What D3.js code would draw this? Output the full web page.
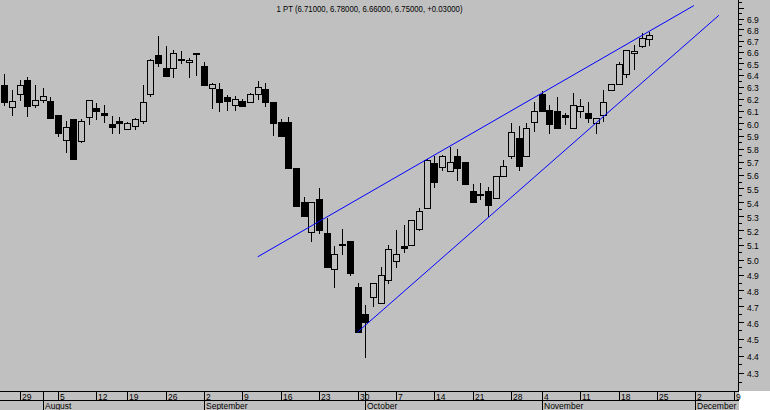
<!DOCTYPE html>
<html><head><meta charset="utf-8">
<script src="https://cdn.jsdelivr.net/npm/d3@7"></script>
<style>html,body{margin:0;padding:0;background:#c0c0c0;overflow:hidden}svg{display:block}</style>
</head><body>
<svg id="chart" width="770" height="410"></svg>
<script>
const title = "1 PT (6.71000, 6.78000, 6.66000, 6.75000, +0.03000)";

const dates = [
"2002-07-25","2002-07-26","2002-07-29","2002-07-30","2002-07-31","2002-08-01","2002-08-02",
"2002-08-05","2002-08-06","2002-08-07","2002-08-08","2002-08-09",
"2002-08-12","2002-08-13","2002-08-14","2002-08-16",
"2002-08-19","2002-08-20","2002-08-21","2002-08-22","2002-08-23",
"2002-08-26","2002-08-27","2002-08-28","2002-08-29","2002-08-30",
"2002-09-02","2002-09-03","2002-09-04","2002-09-05","2002-09-06",
"2002-09-09","2002-09-10","2002-09-11","2002-09-12","2002-09-13",
"2002-09-16","2002-09-17","2002-09-18","2002-09-19","2002-09-20",
"2002-09-23","2002-09-24","2002-09-25","2002-09-26","2002-09-27",
"2002-09-30","2002-10-01","2002-10-02","2002-10-03","2002-10-04",
"2002-10-07","2002-10-08","2002-10-09","2002-10-10","2002-10-11",
"2002-10-14","2002-10-15","2002-10-16","2002-10-17","2002-10-18",
"2002-10-21","2002-10-22","2002-10-23","2002-10-24","2002-10-25",
"2002-10-28","2002-10-29","2002-10-30","2002-10-31",
"2002-11-04","2002-11-05","2002-11-06","2002-11-07","2002-11-08",
"2002-11-11","2002-11-12","2002-11-13","2002-11-14","2002-11-15",
"2002-11-18","2002-11-19","2002-11-20","2002-11-21","2002-11-22"];

const opens = [6.31,6.13,6.24,6.36,6.15,6.19,6.18, 6.07,5.87,6.03,5.86,6.05, 6.12,6.08,5.99,6.02,
5.95,5.98,6.02,6.24,6.57, 6.46,6.46,6.54,6.51,6.59, 6.48,6.29,6.28,6.21,6.15, 6.18,6.17,6.24,6.28,6.17,
6.01,6.01,5.65,5.40,5.19, 5.42,5.18,4.94,5.11,5.13, 4.82,4.65,4.76,4.72,4.87, 4.99,5.09,5.10,5.21,5.36,
5.69,5.66,5.63,5.74,5.70, 5.48,5.46,5.48,5.43,5.59, 5.74,5.88,5.74,6.01, 6.24,6.11,6.10,6.07,5.96,
6.10,6.08,6.00,6.07,6.27, 6.32,6.41,6.59,6.65,6.71];
const highs = [6.41,6.27,6.36,6.38,6.31,6.29,6.21, 6.07,6.02,6.03,6.03,6.19, 6.16,6.15,6.06,6.05,
6.01,6.04,6.31,6.54,6.74, 6.65,6.62,6.61,6.55,6.59, 6.51,6.33,6.33,6.23,6.22, 6.20,6.25,6.35,6.33,6.17,
6.03,6.05,5.65,5.44,5.40, 5.50,5.29,5.09,5.21,5.13, 4.85,4.71,4.85,4.95,5.10, 5.20,5.24,5.27,5.36,5.72,
5.74,5.75,5.81,5.80,5.70, 5.53,5.54,5.51,5.59,5.71, 6.00,5.98,6.00,6.17, 6.26,6.15,6.21,6.08,6.25,
6.20,6.17,6.04,6.27,6.32, 6.51,6.62,6.66,6.77,6.78];
const lows = [6.15,6.07,6.19,6.06,6.13,6.17,6.04, 5.90,5.77,5.72,5.85,5.99, 6.03,6.01,5.92,5.92,
5.95,5.95,6.00,6.22,6.48, 6.39,6.38,6.50,6.38,6.40, 6.31,6.12,6.10,6.11,6.11, 6.14,6.17,6.20,6.14,5.91,
5.90,5.65,5.37,5.30,5.13, 5.18,4.95,4.82,5.04,4.90, 4.54,4.39,4.70,4.72,4.85, 4.95,5.05,5.10,5.20,5.36,
5.51,5.64,5.63,5.56,5.53, 5.40,5.42,5.30,5.43,5.59, 5.73,5.64,5.74,5.94, 6.10,5.92,5.96,5.99,5.96,
6.05,6.01,5.92,6.02,6.27, 6.32,6.38,6.45,6.64,6.66];
const closes = [6.17,6.18,6.31,6.14,6.19,6.22,6.04, 5.92,5.97,5.72,6.02,6.19, 6.10,6.07,5.97,6.00,
6.00,6.03,6.17,6.53,6.50, 6.39,6.59,6.53,6.53,6.58, 6.31,6.32,6.17,6.18,6.20, 6.14,6.24,6.30,6.17,6.00,
5.90,5.65,5.37,5.30,5.40, 5.20,4.95,5.04,5.10,4.91, 4.54,4.60,4.85,4.90,5.07, 5.04,5.08,5.27,5.34,5.71,
5.55,5.74,5.70,5.65,5.53, 5.40,5.45,5.38,5.59,5.67, 5.93,5.67,5.96,6.10, 6.10,5.99,5.96,6.05,6.15,
6.14,6.04,6.04,6.17,6.32, 6.49,6.62,6.61,6.72,6.75];

// trading days after the last candle, shown on the time axis
const futureDates = ["2002-11-25","2002-11-26","2002-11-27","2002-11-28","2002-11-29",
"2002-12-02","2002-12-03","2002-12-04","2002-12-05","2002-12-06","2002-12-09"];

const monthNames = ["January","February","March","April","May","June","July","August","September","October","November","December"];
const priceTicks = [4.3,4.4,4.5,4.6,4.7,4.8,4.9,5.0,5.1,5.2,5.3,5.4,5.5,5.6,5.7,5.8,5.9,6.0,6.1,6.2,6.3,6.4,6.5,6.6,6.7,6.8,6.9];

// trend lines: [trading-day index, price]
const upperTrend = [[33, 5.02], [89.8, 7.02]];
const lowerTrend = [[46, 4.54], [93.07, 6.93]];

const W = 770, H = 410, plotRight = 739, axisTop = 391, rowMid = 400.5;
const svg = d3.select("#chart");
const allDates = dates.concat(futureDates).map(s => new Date(s + "T12:00:00"));

const x = d3.scaleLinear().domain([-0.56, 95.68]).range([0, plotRight]);
const y = d3.scaleLog().domain([4.3, 6.9]).range([372.8, 18.5]);

svg.append("rect").attr("width", W).attr("height", H).attr("fill", "#c0c0c0");
svg.append("rect").attr("x", plotRight).attr("y", axisTop).attr("width", W - plotRight).attr("height", H - axisTop).attr("fill", "#ffffff");

const candles = dates.map((d, i) => ({i, o: opens[i], h: highs[i], l: lows[i], c: closes[i]}));

const g = svg.append("g");
candles.forEach(d => {
  const cx = Math.round(x(d.i));
  g.append("line").attr("x1", cx + 0.5).attr("x2", cx + 0.5)
    .attr("y1", Math.round(y(d.h))).attr("y2", Math.round(y(d.l)) + 1)
    .attr("stroke", "#000").attr("stroke-width", 1);
  const top = Math.round(y(Math.max(d.o, d.c)));
  let bot = Math.round(y(Math.min(d.o, d.c)));
  if (bot - top < 1) bot = top + 1;
  const up = d.c >= d.o;
  g.append("rect").attr("x", cx - 2.5).attr("y", top + 0.5)
    .attr("width", 6).attr("height", bot - top)
    .attr("fill", up ? "#c0c0c0" : "#000").attr("stroke", "#000").attr("stroke-width", 1);
});

// trend lines
const line = d3.line().x(p => x(p[0])).y(p => y(p[1]));
[upperTrend, lowerTrend].forEach(t => {
  svg.append("path").attr("d", line(t)).attr("fill", "none").attr("stroke", "#0000ff").attr("stroke-width", 1);
});

// right price axis
svg.append("line").attr("x1", plotRight - 0.5).attr("x2", plotRight - 0.5).attr("y1", 0).attr("y2", axisTop)
  .attr("stroke", "#000");
const minorTicks = d3.range(425, 706, 5).map(v => v / 100);
minorTicks.forEach(v => {
  const major = Math.abs(v * 10 - Math.round(v * 10)) < 1e-6;
  const yy = Math.round(y(v)) + 0.5;
  svg.append("line").attr("x1", plotRight).attr("x2", plotRight + (major ? 5 : 3))
    .attr("y1", yy).attr("y2", yy).attr("stroke", "#000");
});
priceTicks.forEach(v => {
  svg.append("text").attr("x", 747).attr("y", y(v) + 4.5)
    .attr("font-family", "Liberation Sans, Arial, sans-serif").attr("font-size", 8.5)
    .attr("fill", "#000").text(v.toFixed(1));
});

// time axis
svg.append("line").attr("x1", 0).attr("x2", plotRight).attr("y1", axisTop + 0.5).attr("y2", axisTop + 0.5).attr("stroke", "#000");
svg.append("line").attr("x1", 0).attr("x2", plotRight).attr("y1", rowMid).attr("y2", rowMid).attr("stroke", "#000");

const weekStart = d3.timeMonday;
allDates.forEach((d, i) => {
  if (i === 0) return;
  const prev = allDates[i - 1];
  const xx = Math.round(x(i)) + 0.5;
  const newWeek = +weekStart.floor(d) !== +weekStart.floor(prev);
  const newMonth = d.getMonth() !== prev.getMonth();
  if (newWeek) {
    svg.append("line").attr("x1", xx).attr("x2", xx).attr("y1", axisTop).attr("y2", rowMid).attr("stroke", "#000");
    svg.append("text").attr("x", xx + 1.5).attr("y", 399.5)
      .attr("font-family", "Liberation Sans, Arial, sans-serif").attr("font-size", 8.5)
      .attr("fill", "#000").text(d.getDate());
  }
  if (newMonth) {
    svg.append("line").attr("x1", xx).attr("x2", xx).attr("y1", axisTop).attr("y2", H).attr("stroke", "#000");
    svg.append("text").attr("x", xx + 1.5).attr("y", 409)
      .attr("font-family", "Liberation Sans, Arial, sans-serif").attr("font-size", 8.5)
      .attr("fill", "#000").text(monthNames[d.getMonth()]);
  }
});

// title
svg.append("text").attr("x", plotRight / 2).attr("y", 11.5).attr("text-anchor", "middle")
  .attr("font-family", "Liberation Sans, Arial, sans-serif").attr("font-size", 8.5)
  .attr("textLength", 186).attr("lengthAdjust", "spacingAndGlyphs")
  .attr("fill", "#000").text(title);
</script>
</body></html>
